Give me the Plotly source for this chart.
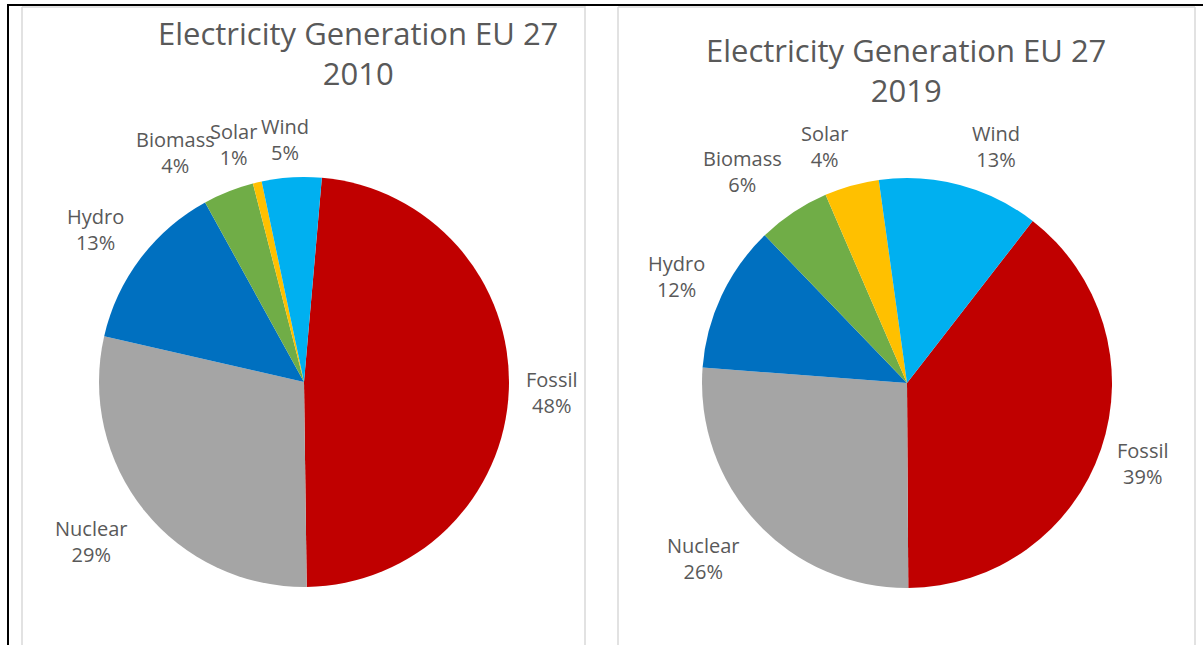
import plotly.graph_objects as go

W, H = 1203, 645

categories = ["Fossil", "Nuclear", "Hydro", "Biomass", "Solar", "Wind"]
values_2010 = [48.4, 28.8, 13.4, 4.0, 0.7, 4.7]
values_2019 = [39.4, 26.3, 11.6, 5.7, 4.3, 12.7]
colors = ["#C00000", "#A5A5A5", "#0070C0", "#70AD47", "#FFC000", "#00B0F0"]
titles = ["Electricity Generation EU 27<br>2010", "Electricity Generation EU 27<br>2019"]

FONT = "Open Sans"
TXT = "#595959"

def px(x):
    return x / W

def py(y):
    return 1 - y / H

fig = go.Figure()

# pie geometry (pixels): center, radius
pies = [
    dict(vals=values_2010, cx=304, cy=382, r=205, rot=5.0),
    dict(vals=values_2019, cx=907, cy=383, r=205, rot=37.8),
]
for p in pies:
    fig.add_trace(go.Pie(
        labels=categories, values=p["vals"], sort=False, direction="clockwise",
        rotation=p["rot"], marker=dict(colors=colors, line=dict(width=0)),
        textinfo="none", hoverinfo="label+percent", showlegend=False,
        domain=dict(x=[px(p["cx"] - p["r"]), px(p["cx"] + p["r"])],
                    y=[py(p["cy"] + p["r"]), py(p["cy"] - p["r"])]),
    ))

# label positions (pixels) for each category
label_pos_2010 = [(552, 393), (91, 541), (95, 229), (175, 152), (234, 145), (285, 139)]
label_pos_2019 = [(1143, 463), (703, 558), (676, 276), (742, 172), (824, 146), (996, 146)]

annotations = []
for vals, pos in [(values_2010, label_pos_2010), (values_2019, label_pos_2019)]:
    tot = sum(vals)
    for cat, v, (x, y) in zip(categories, vals, pos):
        annotations.append(dict(
            text=f"{cat}<br>{round(100 * v / tot)}%", x=px(x), y=py(y),
            xref="paper", yref="paper", xanchor="center", yanchor="middle",
            showarrow=False, font=dict(family=FONT, size=20, color=TXT),
        ))

for t, (x, y) in zip(titles, [(358, 53), (906, 70)]):
    annotations.append(dict(
        text=t, x=px(x), y=py(y), xref="paper", yref="paper",
        xanchor="center", yanchor="middle", showarrow=False,
        font=dict(family=FONT, size=31, color=TXT),
    ))

shapes = []
def line(x0, y0, x1, y1, color, width):
    shapes.append(dict(type="line", xref="paper", yref="paper",
                       x0=px(x0), y0=py(y0), x1=px(x1), y1=py(y1),
                       line=dict(color=color, width=width)))

GRAY = "#D9D9D9"
# left chart box
line(22, 7, 585, 7, GRAY, 1.5)
line(22, 7, 22, 650, GRAY, 1.5)
line(585, 5, 585, 650, GRAY, 1.5)
# right chart box
line(618, 7, 1195, 7, GRAY, 1.5)
line(618, 7, 618, 650, GRAY, 1.5)
line(1195, 7, 1195, 650, GRAY, 1.5)
# black table borders
line(7, 5, 1210, 5, "black", 2)
line(8, 4, 8, 650, "black", 2)

fig.update_layout(
    width=W, height=H, margin=dict(l=0, r=0, t=0, b=0),
    paper_bgcolor="white", plot_bgcolor="white",
    annotations=annotations, shapes=shapes,
)

fig.write_html("out.html", config={"displayModeBar": False},
               post_script="document.body.style.margin='0';document.body.style.overflow='hidden';")
